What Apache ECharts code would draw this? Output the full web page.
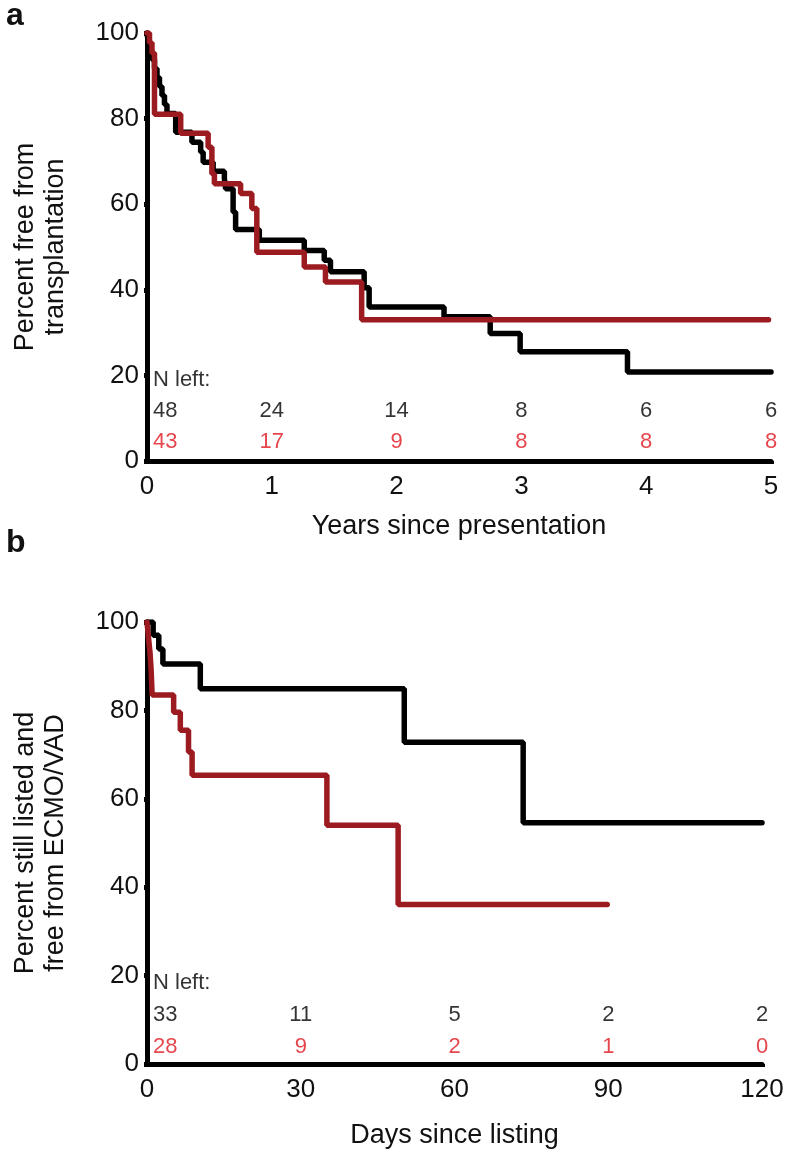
<!DOCTYPE html>
<html>
<head>
<meta charset="utf-8">
<script src="https://cdn.jsdelivr.net/npm/echarts@6/dist/echarts.min.js"></script>
<style>
  html, body { margin: 0; padding: 0; background: #fff; }
  #chart { width: 786px; height: 1152px; }
</style>
</head>
<body>
<div id="chart"></div>
<script>
// panel a : years since presentation, percent free from transplantation
var aBlackYears = [0, 0.01, 0.02, 0.04, 0.06, 0.08, 0.10, 0.12, 0.14, 0.16, 0.23, 0.36, 0.43, 0.45, 0.53, 0.62, 0.63, 0.69, 0.71, 0.90, 1.26, 1.42, 1.47, 1.74, 1.78, 2.38, 2.75, 2.99, 3.85, 5.0];
var aBlackPct   = [100, 97.9, 95.8, 93.8, 91.7, 89.6, 87.5, 85.4, 83.3, 81.2, 76.8, 74.5, 72.2, 69.8, 67.7, 66.0, 63.6, 58.2, 54.1, 51.6, 49.2, 46.9, 44.2, 40.5, 36.0, 33.7, 29.8, 25.5, 20.8, 20.8];
var aRedYears = [0, 0.02, 0.04, 0.06, 0.27, 0.49, 0.52, 0.54, 0.75, 0.84, 0.88, 1.26, 1.43, 1.72, 4.98];
var aRedPct   = [100, 97.7, 95.3, 81.0, 76.6, 73.3, 67.1, 64.8, 62.5, 59.0, 48.8, 45.3, 41.8, 33.0, 33.0];
var aNAt = [0, 1, 2, 3, 4, 5];
var aNBlack = [48, 24, 14, 8, 6, 6];
var aNRed = [43, 17, 9, 8, 8, 8];

// panel b : days since listing, percent still listed and free from ECMO/VAD
var bBlackDays = [0, 1.2, 2.3, 3.1, 10.4, 50.2, 73.4, 120];
var bBlackPct  = [100, 97.0, 93.9, 90.5, 84.9, 72.8, 54.6, 54.6];
var bRedDays = [0, 0.3, 0.6, 0.8, 1.0, 5.2, 6.5, 8.1, 8.8, 35.1, 49.0, 89.8];
var bRedPct  = [100, 96.4, 92.9, 89.3, 83.5, 79.6, 75.5, 70.6, 65.3, 54.0, 36.1, 36.1];
var bNAt = [0, 30, 60, 90, 120];
var bNBlack = [33, 11, 5, 2, 2];
var bNRed = [28, 9, 2, 1, 0];

var FONT = '"Liberation Sans", Arial, Helvetica, sans-serif';
var LINE_RED = '#9c1b20';
var TEXT_RED = '#e0161e';

function pairs(xs, ys) {
	return xs.map(function(x, i) { return [x, ys[i]]; });
}

// N left rows : label row, black numbers, red numbers
function nLeftData(at, black, red, rows) {
	var out = [];
	out.push({ value: [at[0], rows[0]], name: 'N left:', label: { align: 'left', offset: [6, 0], color: '#000' } });
	for (var i = 0; i < at.length; i++) {
		var first = (i === 0);
		out.push({ value: [at[i], rows[1]], name: String(black[i]),
			label: first ? { align: 'left', offset: [6, 0], color: '#000' } : { color: '#000' } });
		out.push({ value: [at[i], rows[2]], name: String(red[i]),
			label: first ? { align: 'left', offset: [6, 0], color: TEXT_RED } : { color: TEXT_RED } });
	}
	return out;
}

function stepLine(idx, data, color) {
	return {
		type: 'line', step: 'end', xAxisIndex: idx, yAxisIndex: idx,
		data: data, showSymbol: false, symbol: 'none',
		lineStyle: { color: color, width: 5.5, cap: 'round' },
		z: 3
	};
}

function nSeries(idx, data) {
	return {
		type: 'scatter', xAxisIndex: idx, yAxisIndex: idx, symbolSize: 0,
		data: data, clip: false, silent: true,
		label: { show: true, position: 'inside', fontSize: 22, fontFamily: FONT,
			formatter: function(p) { return p.name; } },
		z: 4
	};
}

function xAxis(idx, max, interval, name, gap) {
	return {
		gridIndex: idx, type: 'value', min: 0, max: max, interval: interval,
		name: name, nameLocation: 'middle', nameGap: gap,
		nameTextStyle: { fontSize: 27, fontFamily: FONT, color: '#111' },
		axisLine: { lineStyle: { color: '#000', width: 5 } },
		axisTick: { show: true, length: 3, lineStyle: { color: '#000', width: 5 } },
		axisLabel: { fontSize: 26, fontFamily: FONT, color: '#111', margin: 13 },
		splitLine: { show: false }
	};
}

function yAxis(idx, name) {
	return {
		gridIndex: idx, type: 'value', min: 0, max: 100, interval: 20,
		name: name, nameLocation: 'middle', nameRotate: 90, nameGap: 76,
		nameTextStyle: { fontSize: 27, fontFamily: FONT, color: '#111', lineHeight: 30 },
		axisLine: { show: true, lineStyle: { color: '#000', width: 5 } },
		axisTick: { show: true, length: 3, lineStyle: { color: '#000', width: 5 } },
		axisLabel: { fontSize: 26, fontFamily: FONT, color: '#111', margin: 8 },
		splitLine: { show: false }
	};
}

var myChart = echarts.init(document.getElementById('chart'), null, { renderer: 'canvas' });

var option = {
	animation: false,
	backgroundColor: '#fff',
	textStyle: { fontFamily: FONT },
	graphic: [
		{ type: 'text', left: 6, top: 0, style: { text: 'a', font: 'bold 32px ' + FONT, fill: '#111' } },
		{ type: 'text', left: 6, top: 527, style: { text: 'b', font: 'bold 32px ' + FONT, fill: '#111' } }
	],
	grid: [
		{ left: 147, right: 15, top: 33, bottom: 691, containLabel: false, outerBoundsMode: 'none' },
		{ left: 147, right: 24, top: 622, bottom: 88, containLabel: false, outerBoundsMode: 'none' }
	],
	xAxis: [
		xAxis(0, 5, 1, 'Years since presentation', 52),
		xAxis(1, 120, 30, 'Days since listing', 58)
	],
	yAxis: [
		yAxis(0, 'Percent free from\ntransplantation'),
		yAxis(1, 'Percent still listed and\nfree from ECMO/VAD')
	],
	series: [
		stepLine(0, pairs(aBlackYears, aBlackPct), '#000'),
		stepLine(0, pairs(aRedYears, aRedPct), LINE_RED),
		nSeries(0, nLeftData(aNAt, aNBlack, aNRed, [18.9, 11.7, 4.4])),
		stepLine(1, pairs(bBlackDays, bBlackPct), '#000'),
		stepLine(1, pairs(bRedDays, bRedPct), LINE_RED),
		nSeries(1, nLeftData(bNAt, bNBlack, bNRed, [18.3, 11.1, 3.8]))
	]
};

myChart.setOption(option);
</script>
</body>
</html>
